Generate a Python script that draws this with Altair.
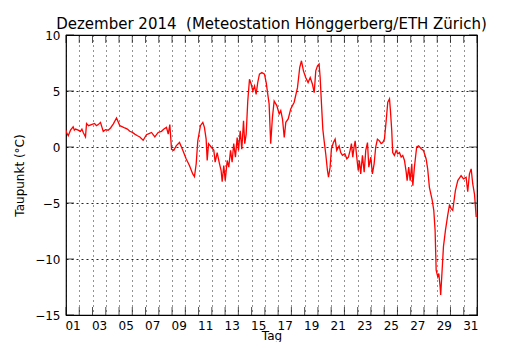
import altair as alt
import pandas as pd

# Day of month (1.0 = 1 Dec 00:00) and dew point in °C
tag = [
    1.00, 1.04, 1.17, 1.34, 1.54, 1.63, 1.72, 1.92, 2.09, 2.20, 2.30, 2.47, 2.55, 2.70, 2.92,
    3.15, 3.30, 3.43, 3.60, 3.81, 3.98, 4.18, 4.36, 4.56, 4.81, 5.06, 5.26, 5.43, 5.63, 5.81,
    6.01, 6.19, 6.39, 6.57, 6.82, 7.07, 7.26, 7.45, 7.70, 7.95, 8.20, 8.39, 8.58, 8.71, 8.83,
    8.96, 9.13, 9.31, 9.56, 9.81, 10.06, 10.31, 10.56, 10.69, 10.82, 10.94, 11.14, 11.32,
    11.44, 11.57, 11.65, 11.75, 11.95, 12.15, 12.25, 12.40, 12.58, 12.70, 12.78, 12.90, 13.01,
    13.16, 13.28, 13.41, 13.53, 13.65, 13.78, 13.91, 14.01, 14.14, 14.26, 14.39, 14.48, 14.59,
    14.71, 14.84, 14.97, 15.09, 15.22, 15.34, 15.46, 15.59, 15.77, 15.97, 16.10, 16.22, 16.32,
    16.44, 16.57, 16.70, 16.90, 17.08, 17.20, 17.33, 17.46, 17.58, 17.76, 17.95, 18.21, 18.46,
    18.63, 18.76, 18.91, 19.08, 19.26, 19.42, 19.59, 19.72, 19.84, 19.97, 20.09, 20.17, 20.27,
    20.37, 20.47, 20.59, 20.72, 20.80, 20.92, 21.02, 21.17, 21.30, 21.42, 21.60, 21.72, 21.85,
    22.03, 22.18, 22.30, 22.43, 22.53, 22.63, 22.73, 22.81, 22.93, 23.04, 23.13, 23.23, 23.36,
    23.49, 23.61, 23.74, 23.84, 23.99, 24.11, 24.24, 24.36, 24.49, 24.64, 24.77, 24.89, 25.02,
    25.15, 25.27, 25.40, 25.47, 25.57, 25.64, 25.77, 25.90, 26.02, 26.15, 26.28, 26.40, 26.53,
    26.66, 26.73, 26.85, 26.96, 27.08, 27.16, 27.28, 27.45, 27.60, 27.79, 27.96, 28.16, 28.28,
    28.41, 28.62, 28.74, 28.84, 28.92, 29.04, 29.12, 29.22, 29.26, 29.34, 29.47, 29.62, 29.79,
    29.92, 30.05, 30.17, 30.37, 30.55, 30.80, 30.98, 31.18, 31.30, 31.43, 31.56, 31.68, 31.81,
    31.94,
]
taupunkt = [
    1.5, 1.3, 1.0, 1.5, 1.8, 1.5, 1.6, 1.5, 1.4, 1.6, 1.3, 0.9, 2.1, 1.9, 2.0,
    2.1, 1.9, 2.0, 2.2, 1.4, 1.55, 1.5, 1.7, 2.05, 2.6, 1.9, 1.8, 1.7, 1.6, 1.4,
    1.3, 1.15, 1.0, 0.9, 0.6, 1.1, 1.2, 1.3, 0.9, 1.3, 1.4, 1.6, 1.75, 1.15, 2.0,
    -0.2, -0.3, 0.1, 0.4, -0.3, -1.05, -1.65, -2.4, -2.65, -1.5, 0.55, 1.9, 2.2,
    1.75, 0.7, -1.2, 0.3, 0.0, -0.3, -1.35, -0.5, -1.5, -2.1, -3.1, -1.65, -3.0,
    -1.2, -1.8, -0.3, -1.35, 0.3, -0.9, 0.85, -0.3, 1.45, -0.2, 2.35, 0.3, 1.15,
    4.1, 6.05, 5.6, 5.0, 5.45, 4.7, 5.75, 6.5, 6.65, 6.5, 5.75, 4.7, 3.85,
    0.3, 2.65, 4.1, 3.7, 2.95, 3.25, 2.5, 0.85, 2.2, 2.5, 3.4, 4.0, 5.3,
    7.1, 7.7, 6.8, 6.2, 5.75, 6.2, 5.6, 4.85, 6.8, 7.25, 7.4, 6.2, 3.85,
    1.6, 0.55, -0.6, -2.1, -2.7, -1.8, -0.15, 0.4, 0.7, -0.3, 0.1, -0.5, -0.75,
    -0.6, -1.05, -0.9, -0.3, 0.3, -0.9, 0.0, 0.55, -0.9, -2.1, -1.2, -2.4, -0.75,
    -2.25, -0.3, 0.4, -1.8, -0.9, -2.4, -1.5, 0.0, 0.7, 0.55, 0.3, 0.4, 0.7,
    2.35, 4.0, 4.3, 3.25, 1.45, -0.5, -0.75, -0.3, -0.6, -0.5, -0.9, -0.75, -1.2,
    -2.25, -3.0, -1.8, -3.0, -1.5, -3.45, -1.8, 0.0, 0.1, -0.15, -0.3, -1.05, -1.95,
    -3.6, -4.75, -5.65, -7.45, -11.0, -11.6, -11.3, -12.5, -13.2, -11.6, -8.9, -7.45, -6.1,
    -5.2, -5.5, -5.65, -3.9, -3.0, -2.55, -2.85, -2.7, -4.0, -2.4, -1.95, -3.3, -4.2,
    -6.25,
]

day_ticks = list(range(1, 33))
y_ticks = [-15, -10, -5, 0, 5, 10]

df = pd.DataFrame({"tag": tag, "taupunkt": taupunkt})
xt = pd.DataFrame({"tag": day_ticks})
yt = pd.DataFrame({"wert": y_ticks})

x_scale = alt.Scale(domain=[1, 32], nice=False, zero=False)
y_scale = alt.Scale(domain=[-15, 10], nice=False, zero=False)

label_expr = (
    "(datum.value % 2 == 1 && datum.value < 32) ? "
    "(datum.value < 10 ? '0' + datum.value : '' + datum.value) : ''"
)

x_axis = alt.Axis(
    values=day_ticks,
    title="Tag",
    labelExpr=label_expr,
    labelOffset=6.6,
    labelOverlap=False,
    labelFlush=False,
    labelBound=False,
    tickSize=0,
    labelPadding=5,
    grid=True,
    gridDash=[1, 4],
    gridColor="#000000",
    gridOpacity=0.85,
    domain=False,
    titleBaseline="alphabetic",
    titleY=24,
)
y_axis = alt.Axis(
    values=y_ticks,
    title="Taupunkt (°C)",
    tickSize=0,
    labelPadding=6,
    grid=True,
    gridDash=[2, 3],
    gridColor="#000000",
    gridOpacity=0.85,
    domain=False,
    labelFlush=False,
    labelOverlap=False,
    titlePadding=8,
)

line = alt.Chart(df).mark_line(color="#ff0000", strokeWidth=1.3, clip=True).encode(
    x=alt.X("tag:Q", scale=x_scale, axis=x_axis),
    y=alt.Y("taupunkt:Q", scale=y_scale, axis=y_axis),
)

tick_style = dict(color="#000000", thickness=1, size=8)

bottom_ticks = alt.Chart(xt).mark_tick(orient="vertical", yOffset=-4, **tick_style).encode(
    x=alt.X("tag:Q", scale=x_scale, axis=x_axis), y=alt.datum(-15, scale=y_scale, axis=y_axis)
)
top_ticks = alt.Chart(xt).mark_tick(orient="vertical", yOffset=4, **tick_style).encode(
    x=alt.X("tag:Q", scale=x_scale, axis=x_axis), y=alt.datum(10, scale=y_scale, axis=y_axis)
)
left_ticks = alt.Chart(yt).mark_tick(orient="horizontal", xOffset=4, **tick_style).encode(
    y=alt.Y("wert:Q", scale=y_scale, axis=y_axis), x=alt.datum(1, scale=x_scale, axis=x_axis)
)
right_ticks = alt.Chart(yt).mark_tick(orient="horizontal", xOffset=-4, **tick_style).encode(
    y=alt.Y("wert:Q", scale=y_scale, axis=y_axis), x=alt.datum(32, scale=x_scale, axis=x_axis)
)

chart = (
    alt.layer(line, bottom_ticks, top_ticks, left_ticks, right_ticks)
    .properties(
        width=411,
        height=280,
        title="Dezember 2014 \u00a0(Meteostation Hönggerberg/ETH Zürich)",
        autosize=alt.AutoSizeParams(type="none"),
        padding={"left": 58, "top": 27, "right": 45, "bottom": 27},
    )
    .configure(font="DejaVu Sans")
    .configure_view(stroke="#000000", strokeWidth=1.2)
    .configure_axis(
        labelFont="DejaVu Sans",
        titleFont="DejaVu Sans",
        labelFontSize=12,
        titleFontSize=12,
        labelColor="#000000",
        titleColor="#000000",
        titleFontWeight="normal",
    )
    .configure_title(font="DejaVu Sans", fontSize=15, fontWeight="normal", color="#000000", anchor="middle", offset=-3)
)

chart.save("out.html", embed_options={"renderer": "svg", "actions": False})
